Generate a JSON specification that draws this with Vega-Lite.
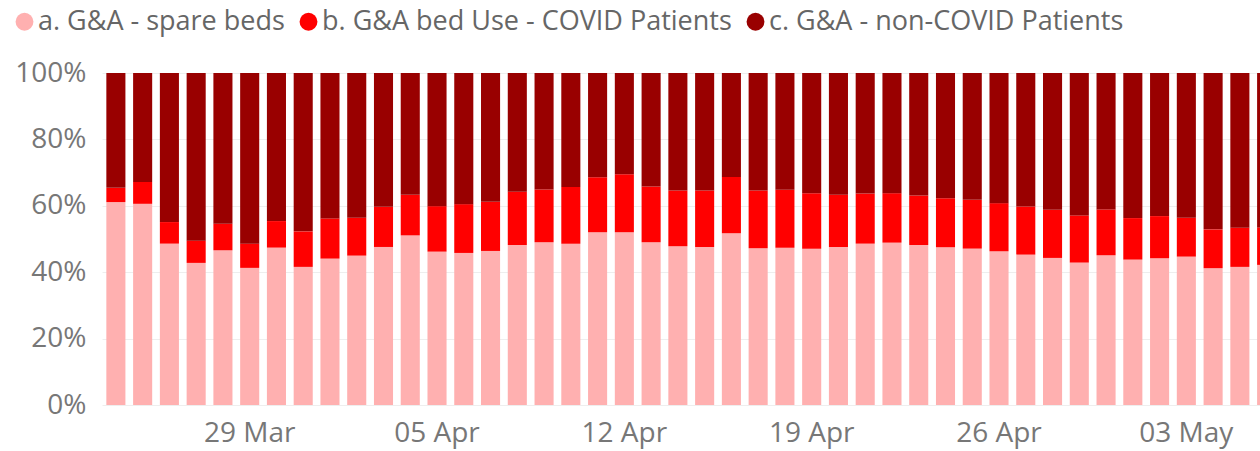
{
  "$schema": "https://vega.github.io/schema/vega-lite/v6.json",
  "autosize": "none",
  "width": 1158,
  "height": 332,
  "padding": {"left": 102, "top": 73, "right": 0, "bottom": 46},
  "background": "white",
  "config": {
    "view": {"stroke": null},
    "font": "Open Sans"
  },
  "data": {
    "values": [
      {"date": "2020-03-24", "spare": 61.1, "covid": 4.3},
      {"date": "2020-03-25", "spare": 60.6, "covid": 6.6},
      {"date": "2020-03-26", "spare": 48.6, "covid": 6.5},
      {"date": "2020-03-27", "spare": 42.8, "covid": 6.7},
      {"date": "2020-03-28", "spare": 46.6, "covid": 8.0},
      {"date": "2020-03-29", "spare": 41.3, "covid": 7.3},
      {"date": "2020-03-30", "spare": 47.4, "covid": 8.0},
      {"date": "2020-03-31", "spare": 41.6, "covid": 10.7},
      {"date": "2020-04-01", "spare": 44.1, "covid": 12.1},
      {"date": "2020-04-02", "spare": 45.0, "covid": 11.4},
      {"date": "2020-04-03", "spare": 47.6, "covid": 12.1},
      {"date": "2020-04-04", "spare": 51.1, "covid": 12.2},
      {"date": "2020-04-05", "spare": 46.2, "covid": 13.7},
      {"date": "2020-04-06", "spare": 45.8, "covid": 14.7},
      {"date": "2020-04-07", "spare": 46.4, "covid": 14.8},
      {"date": "2020-04-08", "spare": 48.2, "covid": 16.0},
      {"date": "2020-04-09", "spare": 49.0, "covid": 15.9},
      {"date": "2020-04-10", "spare": 48.6, "covid": 17.1},
      {"date": "2020-04-11", "spare": 52.0, "covid": 16.6},
      {"date": "2020-04-12", "spare": 52.0, "covid": 17.5},
      {"date": "2020-04-13", "spare": 49.0, "covid": 16.8},
      {"date": "2020-04-14", "spare": 47.8, "covid": 16.8},
      {"date": "2020-04-15", "spare": 47.6, "covid": 17.0},
      {"date": "2020-04-16", "spare": 51.7, "covid": 17.0},
      {"date": "2020-04-17", "spare": 47.2, "covid": 17.4},
      {"date": "2020-04-18", "spare": 47.4, "covid": 17.4},
      {"date": "2020-04-19", "spare": 47.1, "covid": 16.7},
      {"date": "2020-04-20", "spare": 47.6, "covid": 15.7},
      {"date": "2020-04-21", "spare": 48.6, "covid": 15.1},
      {"date": "2020-04-22", "spare": 48.9, "covid": 14.9},
      {"date": "2020-04-23", "spare": 48.2, "covid": 14.9},
      {"date": "2020-04-24", "spare": 47.5, "covid": 14.8},
      {"date": "2020-04-25", "spare": 47.1, "covid": 14.7},
      {"date": "2020-04-26", "spare": 46.3, "covid": 14.5},
      {"date": "2020-04-27", "spare": 45.3, "covid": 14.5},
      {"date": "2020-04-28", "spare": 44.3, "covid": 14.5},
      {"date": "2020-04-29", "spare": 42.9, "covid": 14.2},
      {"date": "2020-04-30", "spare": 45.1, "covid": 13.8},
      {"date": "2020-05-01", "spare": 43.8, "covid": 12.5},
      {"date": "2020-05-02", "spare": 44.2, "covid": 12.7},
      {"date": "2020-05-03", "spare": 44.7, "covid": 11.7},
      {"date": "2020-05-04", "spare": 41.2, "covid": 11.7},
      {"date": "2020-05-05", "spare": 41.6, "covid": 11.8},
      {"date": "2020-05-06", "spare": 42.2, "covid": 11.3}
    ]
  },
  "transform": [
    {"calculate": "100 - datum.spare - datum.covid", "as": "noncovid"},
    {"fold": ["spare", "covid", "noncovid"], "as": ["key", "value"]},
    {"calculate": "datum.key === 'spare' ? 'a. G&A - spare beds' : datum.key === 'covid' ? 'b. G&A bed Use - COVID Patients' : 'c. G&A - non-COVID Patients'", "as": "series"},
    {"calculate": "datum.key === 'spare' ? 0 : datum.key === 'covid' ? 1 : 2", "as": "order"}
  ],
  "mark": {"type": "bar", "width": {"band": 0.75}, "clip": true},
  "encoding": {
    "x": {
      "field": "date",
      "type": "temporal",
      "timeUnit": "utcyearmonthdate",
      "scale": {
        "domain": [
          {"year": 2020, "month": 3, "date": 24, "utc": true},
          {"year": 2020, "month": 5, "date": 6, "hours": 6, "minutes": 30, "utc": true}
        ]
      },
      "axis": {
        "title": null,
        "values": [
          {"year": 2020, "month": 3, "date": 29, "hours": 12, "utc": true},
          {"year": 2020, "month": 4, "date": 5, "hours": 12, "utc": true},
          {"year": 2020, "month": 4, "date": 12, "hours": 12, "utc": true},
          {"year": 2020, "month": 4, "date": 19, "hours": 12, "utc": true},
          {"year": 2020, "month": 4, "date": 26, "hours": 12, "utc": true},
          {"year": 2020, "month": 5, "date": 3, "hours": 12, "utc": true}
        ],
        "format": "%d %b",
        "domain": false,
        "ticks": false,
        "grid": false,
        "labelFontSize": 28,
        "labelColor": "#777777",
        "labelPadding": 14
      }
    },
    "y": {
      "field": "value",
      "type": "quantitative",
      "stack": "normalize",
      "scale": {"domain": [0, 1]},
      "axis": {
        "title": null,
        "values": [0, 0.2, 0.4, 0.6, 0.8, 1],
        "format": ".0%",
        "domain": false,
        "ticks": false,
        "grid": true,
        "gridColor": "#eeeeee",
        "gridWidth": 1,
        "labelFontSize": 28,
        "labelColor": "#777777",
        "labelPadding": 16
      }
    },
    "color": {
      "field": "series",
      "type": "nominal",
      "scale": {
        "domain": ["a. G&A - spare beds", "b. G&A bed Use - COVID Patients", "c. G&A - non-COVID Patients"],
        "range": ["#FFB0B0", "#FF0000", "#990000"]
      },
      "legend": {
        "title": null,
        "orient": "none",
        "direction": "horizontal",
        "legendX": -91,
        "legendY": -65,
        "symbolType": "circle",
        "symbolSize": 320,
        "symbolStrokeWidth": 0,
        "labelFontSize": 27,
        "labelColor": "#666666",
        "labelOffset": 0,
        "columnPadding": 10,
        "labelLimit": 700
      }
    },
    "order": {"field": "order", "type": "quantitative"}
  }
}
